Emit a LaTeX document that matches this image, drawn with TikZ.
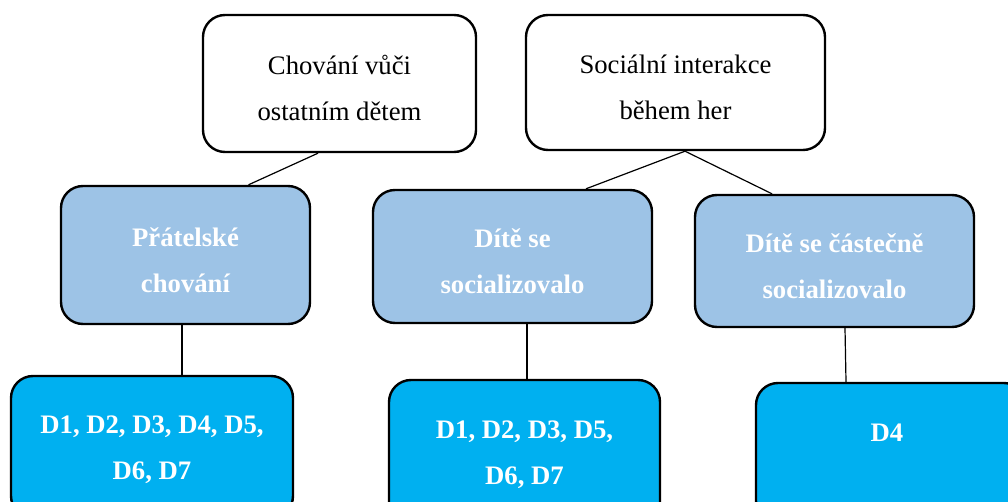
\documentclass[tikz,border=0pt]{standalone}
\usepackage{fontspec}
\setmainfont{Liberation Serif}
\usetikzlibrary{calc}
\definecolor{midblue}{RGB}{157,195,230}
\definecolor{deepblue}{RGB}{0,176,240}
\tikzset{
  box/.style={draw=black, line width=2.4pt, rounded corners=22pt, inner sep=0pt, align=center,
    font=\fontsize{26.7}{46}\selectfont},
  topbox/.style={box, fill=white, text=black, text height=74pt},
  midbox/.style={box, fill=midblue, text=white, text height=75pt, font=\fontsize{26.7}{46}\selectfont\bfseries},
  lowbox/.style={box, fill=deepblue, text=white, text height=70pt, font=\fontsize{26.7}{46}\selectfont\bfseries},
  link/.style={draw=black, line width=1.2pt},
  lbl/.style={inner sep=0pt, text=white, font=\fontsize{26.7}{46}\selectfont\bfseries}
}
\begin{document}
\begin{tikzpicture}[x=1pt,y=-1pt]
\useasboundingbox (0,0) rectangle (1008,502);
\clip (0,0) rectangle (1008,502);
\node[topbox, minimum width=273pt, minimum height=137pt] (t1) at (339.5,83.5) {Chování vůči\\ostatním dětem};
\node[topbox, minimum width=299pt, minimum height=135pt] (t2) at (675.5,82.5) {Sociální interakce\\během her};
\node[midbox, minimum width=249pt, minimum height=138pt] (m1) at (185.5,255) {Přátelské\\chování};
\node[midbox, minimum width=279pt, minimum height=133pt] (m2) at (512.5,256.5) {Dítě se\\socializovalo};
\node[midbox, minimum width=279pt, minimum height=132pt] (m3) at (834.5,261) {Dítě se částečně\\socializovalo};
\node[lowbox, minimum width=282pt, minimum height=142pt] (b1) at (152,447) {D1, D2, D3, D4, D5,\\D6, D7};
\node[lowbox, minimum width=271pt, minimum height=144pt] (b2) at (524.5,452) {D1, D2, D3, D5,\\D6, D7};
\node[lowbox, minimum width=270pt, minimum height=140pt] (b3) at (891,453) {};
\node[lbl] (b3t) at (887,433) {D4};
\draw[link] ($(t1.south)+(-21.5,0)$) -- ($(m1.north)+(63,0)$);
\draw[link] ($(t2.south)+(9.5,0)$) -- ($(m2.north)+(73.5,0)$);
\draw[link] ($(t2.south)+(9.5,0)$) -- ($(m3.north)+(-62.5,0)$);
\draw[link] ($(m1.south)+(-3.5,0)$) -- ($(b1.north)+(30,0)$);
\draw[link] ($(m2.south)+(14.5,0)$) -- ($(b2.north)+(2.5,0)$);
\draw[link] ($(m3.south)+(10.5,0)$) -- ($(b3.north)+(-45,0)$);
\end{tikzpicture}
\end{document}
